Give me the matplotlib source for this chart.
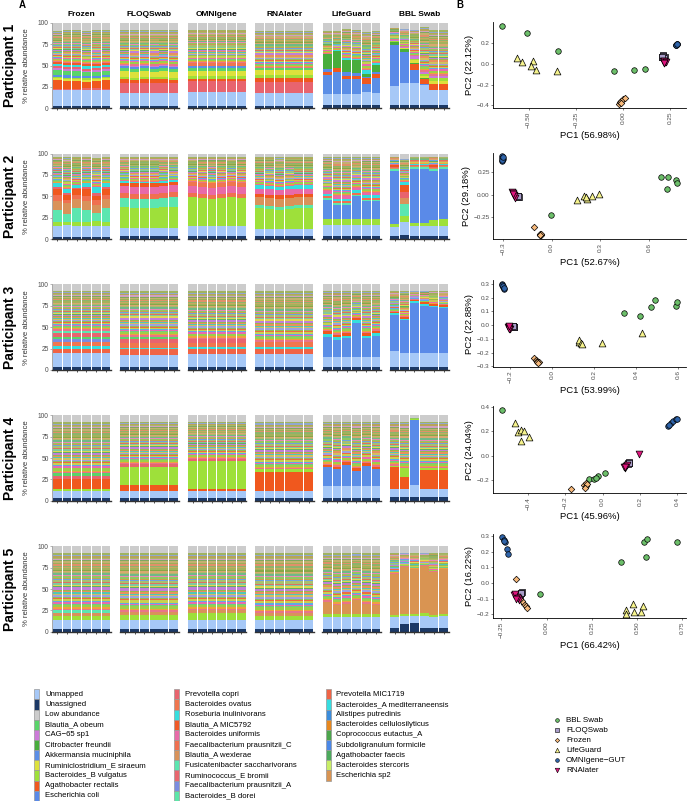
import numpy as np
import matplotlib.pyplot as plt

plt.rcParams['font.family'] = ['Liberation Sans', 'DejaVu Sans']

W, H = 687, 801

methods = ['Frozen', 'FLOQSwab', 'OMNIgene', 'RNAlater', 'LifeGuard', 'BBL Swab']
participants = ['Participant 1', 'Participant 2', 'Participant 3', 'Participant 4', 'Participant 5']

# legend taxa (column-major order) and their colours
taxa = ['Unmapped', 'Unassigned', 'Low abundance', 'Blautia_A obeum', 'CAG\u221265 sp1',
        'Citrobacter freundii', 'Akkermansia muciniphila', 'Ruminiclostridium_E siraeum',
        'Bacteroides_B vulgatus', 'Agathobacter rectalis', 'Escherichia coli',
        'Prevotella copri', 'Bacteroides ovatus', 'Roseburia inulinivorans', 'Blautia_A MIC5792',
        'Bacteroides uniformis', 'Faecalibacterium prausnitzii_C', 'Blautia_A wexlerae',
        'Fusicatenibacter saccharivorans', 'Ruminococcus_E bromii', 'Faecalibacterium prausnitzii_A',
        'Bacteroides_B dorei',
        'Prevotella MIC1719', 'Bacteroides_A mediterraneensis', 'Alistipes putredinis',
        'Bacteroides cellulosilyticus', 'Coprococcus eutactus_A', 'Subdoligranulum formicile',
        'Agathobacter faecis', 'Bacteroides stercoris', 'Escherichia sp2']
taxa_colors = ['#a6c8f7', '#1c3966', '#cccccc', '#5ad46a', '#cc7ad8',
               '#48ad3c', '#5b8ee6', '#dde13c',
               '#9ee03a', '#f0581e', '#5a8ae8',
               '#e8646e', '#f0764e', '#36dede', '#f05a28',
               '#e86aa8', '#f07050', '#d9925a',
               '#5ce6b0', '#e8666e', '#7a8ce0',
               '#5ce6a8',
               '#f06446', '#36dde0', '#3a8cdc',
               '#e8881e', '#4ca64c', '#4a88e8',
               '#4caa5c', '#c8ee66', '#d99452']
col = dict(zip(taxa, taxa_colors))

# thin "tail" stripes between the dominant taxa and the low-abundance block
tail_pct = [1.6, 1.2, 2.0, 0.8, 1.4, 1.0, 1.8, 1.1, 0.8, 1.6, 1.3, 0.9, 1.5, 1.0,
            1.9, 0.8, 1.2, 1.4, 1.0, 1.7, 1.1, 0.8, 1.4, 1.0, 1.6, 0.9, 1.3, 1.0,
            1.5, 0.8, 1.2, 1.4, 0.9, 1.6, 1.0, 1.2, 0.8, 1.3, 1.1, 1.5]
tail_colors = ['#e8748a', '#f0a040', '#9ccf4a', '#6fcf7f', '#e86ab0', '#5fa8e8', '#c8d050',
               '#f06a40', '#8fbf5a', '#a0a0e0', '#d0c060', '#4fc8b8', '#e89060', '#98b84a',
               '#c080d8', '#60b060', '#e0d850', '#80c8a0', '#e07060', '#a8c070', '#6fa0e0',
               '#c8a050', '#90c860', '#e888b8', '#70b888', '#b0b86a', '#d8a870', '#88a848',
               '#a4b25c', '#c8a860', '#8cb46c', '#e0906a', '#9cb058', '#c4b070', '#7fa860',
               '#d0a0c0', '#a8b868', '#b8a458', '#90a8d0', '#a0b460']

# stacked layers, bottom to top, 6 replicates each; 'Low abundance' sits on top
p1 = {
    'Frozen': [('Unassigned', [3, 3, 3, 3, 3, 3]), ('Unmapped', [18, 18, 18, 19, 19, 18]),
               ('Ruminococcus_E bromii', [2, 2, 2, 2, 2, 2]), ('Agathobacter rectalis', [10, 9, 9, 7, 8, 10]),
               ('Ruminiclostridium_E siraeum', [2, 2, 2, 2, 2, 2]), ('Bacteroides_B vulgatus', [2, 2, 2, 2, 2, 2]),
               ('Akkermansia muciniphila', [2, 3, 2, 3, 2, 2]), ('Blautia_A obeum', [6, 5, 6, 4, 5, 5]),
               ('CAG\u221265 sp1', [2, 2, 2, 2, 2, 2]), ('Prevotella copri', [2, 2, 2, 2, 2, 2]),
               ('Roseburia inulinivorans', [3, 3, 3, 4, 3, 3]), ('Blautia_A MIC5792', [2, 2, 2, 2, 2, 2]),
               ('Low abundance', [10, 9, 9, 10, 9, 9])],
    'FLOQSwab': [('Unassigned', [3, 3, 3, 3, 3, 3]), ('Unmapped', [15, 15, 15, 15, 15, 15]),
                 ('Prevotella copri', [12, 12, 12, 12, 12, 12]), ('Agathobacter rectalis', [4, 3, 4, 4, 4, 3]),
                 ('Bacteroides_B vulgatus', [3, 3, 3, 3, 3, 3]), ('Ruminiclostridium_E siraeum', [7, 7, 7, 6, 7, 7]),
                 ('Blautia_A obeum', [3, 3, 3, 3, 3, 3]), ('Akkermansia muciniphila', [2, 2, 2, 2, 2, 2]),
                 ('CAG\u221265 sp1', [2, 2, 2, 2, 2, 2]), ('Low abundance', [9, 9, 9, 9, 9, 9])],
    'OMNIgene': [('Unassigned', [3, 3, 3, 3, 3, 3]), ('Unmapped', [16, 16, 16, 16, 16, 16]),
                 ('Prevotella copri', [13, 13, 13, 13, 13, 13]), ('Agathobacter rectalis', [2, 2, 2, 2, 2, 2]),
                 ('Bacteroides_B vulgatus', [4, 4, 4, 4, 4, 4]), ('Ruminiclostridium_E siraeum', [6, 6, 6, 6, 6, 6]),
                 ('Blautia_A obeum', [3, 3, 3, 3, 3, 3]), ('Akkermansia muciniphila', [2, 2, 2, 2, 2, 2]),
                 ('Bacteroides ovatus', [4, 4, 4, 4, 4, 4]), ('Low abundance', [8, 8, 8, 8, 8, 8])],
    'RNAlater': [('Unassigned', [3, 3, 3, 3, 3, 3]), ('Unmapped', [15, 15, 15, 15, 15, 15]),
                 ('Prevotella copri', [13, 13, 13, 13, 13, 13]), ('Agathobacter rectalis', [5, 5, 5, 5, 5, 5]),
                 ('Bacteroides_B vulgatus', [3, 3, 3, 3, 3, 3]), ('Ruminiclostridium_E siraeum', [6, 6, 6, 6, 6, 6]),
                 ('Blautia_A obeum', [2, 2, 2, 2, 2, 2]), ('Low abundance', [10, 10, 10, 10, 10, 10])],
    'LifeGuard': [('Unassigned', [4, 4, 4, 4, 4, 4]), ('Unmapped', [13, 13, 13, 13, 15, 14]),
                  ('Akkermansia muciniphila', [22, 26, 17, 17, 10, 17]), ('Agathobacter rectalis', [3, 4, 4, 4, 7, 5]),
                  ('Escherichia coli', [4, 0, 4, 3, 1, 2]), ('Citrobacter freundii', [17, 20, 15, 16, 3, 9]),
                  ('Roseburia inulinivorans', [1, 1, 2, 1, 5, 2]), ('Low abundance', [10, 10, 7, 9, 11, 10])],
    'BBL Swab': [('Unassigned', [4, 4, 4, 4, 4, 4]), ('Unmapped', [22, 26, 26, 23, 17, 17]),
                 ('Escherichia coli', [48, 36, 15, 1, 0, 0]), ('Agathobacter rectalis', [0, 0, 7, 6, 7, 7]),
                 ('Citrobacter freundii', [3, 3, 1, 1, 1, 1]), ('Ruminiclostridium_E siraeum', [1, 1, 3, 3, 3, 3]),
                 ('Bacteroides_B vulgatus', [1, 1, 2, 2, 3, 3]), ('CAG\u221265 sp1', [1, 1, 3, 3, 3, 3]),
                 ('Low abundance', [6, 7, 8, 5, 9, 9])],
}
p2 = {
    'Frozen': [('Unassigned', [3, 3, 3, 3, 3, 3]), ('Unmapped', [12, 13, 12, 12, 12, 12]),
               ('Bacteroides_B vulgatus', [5, 4, 5, 5, 6, 5]), ('Fusicatenibacter saccharivorans', [14, 9, 16, 14, 9, 16]),
               ('Blautia_A wexlerae', [11, 13, 11, 11, 10, 11]), ('Faecalibacterium prausnitzii_C', [6, 4, 4, 5, 6, 4]),
               ('Agathobacter rectalis', [7, 5, 7, 8, 4, 7]), ('Prevotella copri', [3, 3, 2, 3, 4, 3]),
               ('Roseburia inulinivorans', [4, 5, 3, 4, 7, 4]), ('Low abundance', [4, 4, 4, 4, 5, 4])],
    'FLOQSwab': [('Unassigned', [4, 4, 4, 4, 4, 4]), ('Unmapped', [9, 9, 9, 9, 9, 9]),
                 ('Bacteroides_B vulgatus', [24, 23, 23, 23, 24, 25]), ('Fusicatenibacter saccharivorans', [11, 11, 11, 11, 11, 11]),
                 ('Faecalibacterium prausnitzii_C', [6, 6, 6, 6, 6, 6]), ('Bacteroides uniformis', [8, 8, 8, 8, 8, 8]),
                 ('Agathobacter rectalis', [4, 4, 4, 4, 4, 4]), ('Roseburia inulinivorans', [2, 2, 2, 2, 2, 2]),
                 ('Low abundance', [4, 4, 4, 4, 4, 4])],
    'OMNIgene': [('Unassigned', [4, 4, 4, 4, 4, 4]), ('Unmapped', [11, 11, 11, 11, 11, 11]),
                 ('Bacteroides_B vulgatus', [34, 33, 32, 33, 34, 33]), ('Faecalibacterium prausnitzii_C', [5, 5, 5, 5, 5, 5]),
                 ('Bacteroides uniformis', [8, 8, 8, 8, 8, 8]), ('Bacteroides ovatus', [5, 5, 5, 5, 5, 5]),
                 ('Low abundance', [4, 4, 4, 4, 4, 4])],
    'RNAlater': [('Unassigned', [4, 4, 4, 4, 4, 4]), ('Unmapped', [8, 8, 8, 8, 8, 8]),
                 ('Bacteroides_B vulgatus', [24, 23, 22, 23, 24, 24]), ('Bacteroides_B dorei', [4, 4, 4, 4, 4, 4]),
                 ('Blautia_A wexlerae', [9, 9, 9, 9, 9, 9]), ('Agathobacter rectalis', [4, 4, 4, 4, 4, 4]),
                 ('Bacteroides uniformis', [6, 6, 6, 6, 6, 6]), ('Roseburia inulinivorans', [4, 4, 4, 4, 4, 4]),
                 ('Low abundance', [4, 4, 4, 4, 4, 4])],
    'LifeGuard': [('Unassigned', [4, 4, 4, 4, 4, 4]), ('Unmapped', [12, 12, 12, 12, 12, 12]),
                  ('Bacteroides_B vulgatus', [7, 7, 7, 7, 7, 7]), ('Akkermansia muciniphila', [23, 17, 17, 27, 21, 21]),
                  ('Fusicatenibacter saccharivorans', [2, 2, 2, 2, 2, 2]), ('Faecalibacterium prausnitzii_C', [2, 2, 2, 2, 2, 2]),
                  ('Roseburia inulinivorans', [3, 3, 3, 3, 3, 3]), ('Bacteroides uniformis', [3, 3, 3, 3, 3, 3]),
                  ('Low abundance', [4, 4, 4, 4, 4, 4])],
    'BBL Swab': [('Unassigned', [4, 5, 4, 4, 4, 4]), ('Unmapped', [10, 15, 11, 11, 11, 11]),
                 ('Bacteroides_B vulgatus', [4, 7, 4, 4, 7, 8]), ('Escherichia coli', [62, 0, 63, 63, 58, 59]),
                 ('Fusicatenibacter saccharivorans', [2, 14, 2, 2, 2, 2]), ('Blautia_A wexlerae', [1, 7, 1, 1, 1, 1]),
                 ('Prevotella copri', [1, 7, 1, 1, 1, 1]), ('Agathobacter rectalis', [2, 8, 1, 1, 2, 1]),
                 ('Roseburia inulinivorans', [1, 4, 1, 1, 1, 1]), ('Low abundance', [4, 6, 4, 4, 4, 4])],
}
p3 = {
    'Frozen': [('Unassigned', [4, 4, 4, 4, 4, 4]), ('Unmapped', [16, 16, 16, 16, 16, 16]),
               ('Prevotella MIC1719', [5, 5, 5, 5, 5, 5]), ('Roseburia inulinivorans', [3, 3, 3, 3, 3, 3]),
               ('Bacteroides ovatus', [5, 5, 5, 5, 5, 5]), ('Faecalibacterium prausnitzii_A', [3, 3, 3, 3, 3, 3]),
               ('Blautia_A obeum', [3, 3, 3, 3, 3, 3]), ('Prevotella copri', [4, 4, 4, 4, 4, 4]),
               ('Fusicatenibacter saccharivorans', [3, 3, 3, 3, 3, 3]), ('Low abundance', [8, 8, 8, 8, 8, 8])],
    'FLOQSwab': [('Unassigned', [4, 4, 4, 4, 4, 4]), ('Unmapped', [14, 14, 14, 14, 14, 14]),
                 ('Prevotella MIC1719', [6, 6, 6, 6, 6, 6]), ('Roseburia inulinivorans', [2, 2, 2, 2, 2, 2]),
                 ('Bacteroides ovatus', [6, 6, 6, 6, 6, 6]), ('Prevotella copri', [4, 4, 4, 4, 4, 4]),
                 ('Blautia_A obeum', [3, 3, 3, 3, 3, 3]), ('Low abundance', [8, 8, 8, 8, 8, 8])],
    'OMNIgene': [('Unassigned', [4, 4, 4, 4, 4, 4]), ('Unmapped', [15, 15, 15, 15, 15, 15]),
                 ('Prevotella MIC1719', [6, 6, 6, 6, 6, 6]), ('Roseburia inulinivorans', [2, 2, 2, 2, 2, 2]),
                 ('Bacteroides ovatus', [5, 5, 5, 5, 5, 5]), ('Prevotella copri', [4, 4, 4, 4, 4, 4]),
                 ('Low abundance', [8, 8, 8, 8, 8, 8])],
    'RNAlater': [('Unassigned', [4, 4, 4, 4, 4, 4]), ('Unmapped', [15, 15, 15, 15, 15, 15]),
                 ('Prevotella MIC1719', [5, 5, 5, 5, 5, 5]), ('Roseburia inulinivorans', [3, 3, 3, 3, 3, 3]),
                 ('Bacteroides ovatus', [6, 6, 6, 6, 6, 6]), ('Low abundance', [8, 8, 8, 8, 8, 8])],
    'LifeGuard': [('Unassigned', [4, 4, 4, 4, 4, 4]), ('Unmapped', [11, 11, 11, 11, 11, 11]),
                  ('Akkermansia muciniphila', [24, 20, 22, 40, 22, 25]), ('Roseburia inulinivorans', [3, 3, 3, 3, 3, 3]),
                  ('Agathobacter rectalis', [3, 3, 3, 3, 3, 3]), ('Low abundance', [8, 8, 8, 8, 8, 8])],
    'BBL Swab': [('Unassigned', [4, 4, 4, 4, 4, 4]), ('Unmapped', [18, 16, 16, 16, 16, 16]),
                 ('Escherichia coli', [42, 38, 58, 55, 53, 52]), ('Roseburia inulinivorans', [2, 2, 2, 2, 2, 2]),
                 ('Agathobacter rectalis', [2, 2, 2, 2, 2, 2]), ('Low abundance', [8, 8, 8, 8, 8, 8])],
}
p4 = {
    'Frozen': [('Unassigned', [3, 3, 3, 3, 3, 3]), ('Unmapped', [8, 8, 8, 8, 8, 8]),
               ('Bacteroides_B vulgatus', [3, 3, 3, 3, 3, 3]), ('Agathobacter rectalis', [12, 12, 12, 12, 12, 12]),
               ('Prevotella copri', [3, 3, 3, 3, 3, 3]), ('Blautia_A obeum', [3, 3, 3, 3, 3, 3]),
               ('Low abundance', [8, 8, 8, 8, 8, 8])],
    'FLOQSwab': [('Unassigned', [3, 3, 3, 3, 3, 3]), ('Unmapped', [9, 9, 9, 9, 9, 9]),
                 ('Agathobacter rectalis', [6, 6, 6, 6, 6, 6]), ('Bacteroides_B vulgatus', [22, 22, 22, 22, 22, 22]),
                 ('Prevotella copri', [3, 3, 3, 3, 3, 3]), ('Low abundance', [8, 8, 8, 8, 8, 8])],
    'OMNIgene': [('Unassigned', [3, 3, 3, 3, 3, 3]), ('Unmapped', [9, 9, 9, 9, 9, 9]),
                 ('Agathobacter rectalis', [2, 2, 2, 2, 2, 2]), ('Bacteroides_B vulgatus', [32, 32, 32, 32, 32, 32]),
                 ('Prevotella copri', [3, 3, 3, 3, 3, 3]), ('Low abundance', [8, 8, 8, 8, 8, 8])],
    'RNAlater': [('Unassigned', [3, 3, 3, 3, 3, 3]), ('Unmapped', [9, 9, 9, 9, 9, 9]),
                 ('Agathobacter rectalis', [22, 22, 22, 22, 22, 22]), ('Bacteroides_B vulgatus', [3, 3, 3, 3, 3, 3]),
                 ('Low abundance', [8, 8, 8, 8, 8, 8])],
    'LifeGuard': [('Unassigned', [3, 3, 3, 3, 3, 3]), ('Unmapped', [14, 14, 14, 14, 14, 14]),
                  ('Akkermansia muciniphila', [22, 20, 25, 18, 24, 20]), ('Agathobacter rectalis', [3, 3, 3, 3, 3, 3]),
                  ('Low abundance', [8, 8, 8, 8, 8, 8])],
    'BBL Swab': [('Unassigned', [4, 4, 4, 4, 4, 4]), ('Unmapped', [10, 10, 14, 10, 10, 10]),
                 ('Agathobacter rectalis', [25, 14, 1, 22, 22, 22]), ('Escherichia coli', [0, 0, 75, 0, 0, 0]),
                 ('Bacteroides_B vulgatus', [2, 10, 1, 2, 2, 2]), ('Low abundance', [8, 8, 3, 8, 8, 8])],
}
p5 = {
    'Frozen': [('Unassigned', [3, 3, 3, 3, 3, 3]), ('Unmapped', [11, 11, 11, 11, 11, 11]),
               ('Bacteroides_B vulgatus', [5, 5, 5, 5, 5, 5]), ('Blautia_A wexlerae', [3, 3, 3, 3, 3, 3]),
               ('Fusicatenibacter saccharivorans', [3, 3, 3, 3, 3, 3]), ('Low abundance', [8, 8, 8, 8, 8, 8])],
    'FLOQSwab': [('Unassigned', [3, 3, 3, 3, 3, 3]), ('Unmapped', [11, 11, 11, 11, 11, 11]),
                 ('Bacteroides_B vulgatus', [6, 6, 6, 6, 6, 6]), ('Blautia_A wexlerae', [3, 3, 3, 3, 3, 3]),
                 ('Low abundance', [8, 8, 8, 8, 8, 8])],
    'OMNIgene': [('Unassigned', [3, 3, 3, 3, 3, 3]), ('Unmapped', [11, 11, 11, 11, 11, 11]),
                 ('Bacteroides_B vulgatus', [8, 8, 8, 8, 8, 8]), ('Blautia_A wexlerae', [3, 3, 3, 3, 3, 3]),
                 ('Low abundance', [8, 8, 8, 8, 8, 8])],
    'RNAlater': [('Unassigned', [3, 3, 3, 3, 3, 3]), ('Unmapped', [11, 11, 11, 11, 11, 11]),
                 ('Bacteroides_B vulgatus', [5, 5, 5, 5, 5, 5]), ('Blautia_A wexlerae', [3, 3, 3, 3, 3, 3]),
                 ('Low abundance', [8, 8, 8, 8, 8, 8])],
    'LifeGuard': [('Unassigned', [3, 3, 3, 3, 3, 3]), ('Unmapped', [14, 14, 14, 14, 14, 14]),
                  ('Bacteroides_B vulgatus', [4, 4, 4, 4, 4, 4]), ('Escherichia sp2', [14, 10, 12, 16, 12, 10]),
                  ('Low abundance', [8, 8, 8, 8, 8, 8])],
    'BBL Swab': [('Unassigned', [4, 9, 10, 5, 4, 4]), ('Unmapped', [13, 10, 9, 14, 13, 14]),
                 ('Bacteroides_B vulgatus', [3, 2, 2, 3, 3, 3]), ('Escherichia sp2', [48, 55, 52, 55, 50, 52]),
                 ('Low abundance', [8, 8, 8, 8, 8, 8])],
}
bar_data = [p1, p2, p3, p4, p5]

# PCA coordinates per participant: method -> (PC1, PC2)
pc_p1 = {
    'BBL Swab': ([-0.641, -0.509, -0.345, -0.047, 0.059, 0.115], [0.362, 0.294, 0.122, -0.066, -0.062, -0.050]),
    'LifeGuard': ([-0.561, -0.535, -0.479, -0.486, -0.463, -0.349], [0.059, 0.019, 0.028, -0.019, -0.056, -0.066]),
    'Frozen': ([-0.020, -0.015, -0.009, 0.000, 0.009, -0.013], [-0.387, -0.369, -0.353, -0.341, -0.331, -0.375]),
    'FLOQSwab': ([0.203, 0.212, 0.220, 0.208, 0.215, 0.206], [0.060, 0.080, 0.068, 0.072, 0.055, 0.065]),
    'RNAlater': ([0.212, 0.220, 0.216, 0.224, 0.214, 0.218], [0.025, 0.015, 0.030, 0.020, 0.010, 0.005]),
    'OMNIgene\u2212GUT': ([0.278, 0.285, 0.281, 0.283, 0.280, 0.286], [0.178, 0.190, 0.183, 0.186, 0.180, 0.192]),
}
pc_p2 = {
    'BBL Swab': ([-0.005, 0.674, 0.715, 0.709, 0.764, 0.774], [-0.228, 0.198, 0.198, 0.063, 0.168, 0.131]),
    'LifeGuard': ([0.155, 0.200, 0.217, 0.247, 0.290, 0.210], [-0.056, -0.019, -0.045, -0.019, 0.007, -0.030]),
    'Frozen': ([-0.107, -0.074, -0.064, -0.070, -0.068, -0.072], [-0.370, -0.450, -0.460, -0.455, -0.448, -0.458]),
    'FLOQSwab': ([-0.204, -0.210, -0.206, -0.208, -0.202, -0.205], [-0.020, -0.015, -0.025, -0.018, -0.022, -0.020]),
    'RNAlater': ([-0.245, -0.234, -0.224, -0.240, -0.230, -0.238], [0.026, 0.000, -0.037, 0.015, -0.015, 0.010]),
    'OMNIgene\u2212GUT': ([-0.304, -0.302, -0.304, -0.303, -0.305, -0.302], [0.430, 0.400, 0.380, 0.415, 0.390, 0.420]),
}
pc_p3 = {
    'BBL Swab': ([0.342, 0.418, 0.473, 0.493, 0.589, 0.597], [0.089, 0.067, 0.133, 0.182, 0.138, 0.170]),
    'LifeGuard': ([0.127, 0.131, 0.138, 0.143, 0.238, 0.429], [-0.120, -0.110, -0.126, -0.136, -0.131, -0.053]),
    'Frozen': ([-0.085, -0.075, -0.069, -0.063, -0.072, -0.066], [-0.240, -0.255, -0.260, -0.270, -0.265, -0.275]),
    'FLOQSwab': ([-0.181, -0.184, -0.180, -0.183, -0.182, -0.185], [-0.010, -0.005, -0.015, -0.008, -0.012, -0.006]),
    'RNAlater': ([-0.208, -0.200, -0.204, -0.206, -0.202, -0.205], [-0.010, -0.030, -0.020, -0.015, -0.025, -0.005]),
    'OMNIgene\u2212GUT': ([-0.237, -0.232, -0.229, -0.235, -0.233, -0.230], [0.300, 0.280, 0.260, 0.292, 0.285, 0.270]),
}
pc_p4 = {
    'BBL Swab': ([-0.540, -0.076, -0.044, -0.023, 0.012, -0.035], [0.372, -0.192, -0.186, -0.167, -0.145, -0.180]),
    'LifeGuard': ([-0.468, -0.453, -0.436, -0.421, -0.441, -0.393], [0.268, 0.194, 0.205, 0.202, 0.117, 0.152]),
    'Frozen': ([-0.169, -0.101, -0.092, -0.089, -0.084, -0.096], [-0.274, -0.241, -0.222, -0.250, -0.233, -0.260]),
    'FLOQSwab': ([0.139, 0.143, 0.136, 0.141, 0.138, 0.140], [-0.057, -0.062, -0.060, -0.055, -0.065, -0.058]),
    'RNAlater': ([0.196, 0.119, 0.124, 0.128, 0.115, 0.122], [0.015, -0.104, -0.084, -0.076, -0.095, -0.090]),
    'OMNIgene\u2212GUT': ([0.352, 0.364, 0.377, 0.391, 0.400, 0.358], [0.240, 0.262, 0.279, 0.295, 0.300, 0.250]),
}
pc_p5 = {
    'BBL Swab': ([-0.035, 0.411, 0.537, 0.555, 0.546, 0.721], [-0.070, 0.133, 0.260, 0.277, 0.164, 0.260]),
    'LifeGuard': ([0.436, 0.438, 0.478, 0.482, 0.519, 0.532], [-0.171, -0.200, -0.135, -0.183, -0.183, -0.146]),
    'Frozen': ([-0.167, -0.127, -0.114, -0.109, -0.136, -0.145], [0.028, -0.131, -0.146, -0.156, -0.114, -0.100]),
    'FLOQSwab': ([-0.151, -0.136, -0.145, -0.140, -0.148, -0.142], [-0.079, -0.058, -0.070, -0.065, -0.075, -0.062]),
    'RNAlater': ([-0.182, -0.164, -0.151, -0.172, -0.160, -0.168], [-0.079, -0.089, -0.108, -0.072, -0.095, -0.100]),
    'OMNIgene\u2212GUT': ([-0.246, -0.237, -0.232, -0.219, -0.213, -0.235], [0.290, 0.273, 0.258, 0.214, 0.183, 0.265]),
}
pca_data = [pc_p1, pc_p2, pc_p3, pc_p4, pc_p5]
pc1_var = ['56.98%', '52.67%', '53.99%', '45.96%', '66.42%']
pc2_var = ['22.12%', '29.18%', '22.88%', '24.04%', '16.22%']
pc_xticks = [[-0.50, -0.25, 0.00, 0.25], [-0.3, 0.0, 0.3, 0.6], [-0.2, 0.0, 0.2, 0.4, 0.6],
             [-0.4, -0.2, 0.0, 0.2, 0.4], [-0.25, 0.00, 0.25, 0.50, 0.75]]
pc_yticks = [[-0.4, -0.2, 0.0, 0.2], [-0.25, 0.00, 0.25], [-0.3, -0.2, -0.1, 0.0, 0.1, 0.2, 0.3],
             [-0.2, 0.0, 0.2, 0.4], [-0.2, -0.1, 0.0, 0.1, 0.2, 0.3]]
pc_xdec = [2, 1, 1, 1, 2]
pc_ydec = [1, 2, 1, 1, 1]

pca_methods = ['BBL Swab', 'FLOQSwab', 'Frozen', 'LifeGuard', 'OMNIgene\u2212GUT', 'RNAlater']
pca_style = {'BBL Swab': ('o', '#6cbf6a', 16), 'FLOQSwab': ('s', '#a99dc9', 13),
             'Frozen': ('D', '#f7b97b', 11), 'LifeGuard': ('^', '#f6f38c', 24),
             'OMNIgene\u2212GUT': ('o', '#2f64aa', 16), 'RNAlater': ('v', '#e0147e', 24)}
draw_order = ['BBL Swab', 'LifeGuard', 'Frozen', 'FLOQSwab', 'RNAlater', 'OMNIgene\u2212GUT']


def px_rect(x0, y0, x1, y1):
    return [x0 / W, 1 - y1 / H, (x1 - x0) / W, (y1 - y0) / H]


def fmt(v, d):
    return f'{v:.{d}f}'.replace('-', '\u2212')


fig = plt.figure(figsize=(W / 100, H / 100), dpi=100)

facet_left = [52.3, 120.0, 187.7, 255.0, 322.3, 390.0]
facet_w = 58.5
row_top = [22.7, 153.5, 284.3, 415.2, 546.2]
row_h = 85.7
pca_top = [22, 152.5, 280, 406, 533.5]
pca_bot = [108, 239.3, 367, 493.3, 618.3]

reps = np.arange(1, 7)
for r in range(5):
    for m, meth in enumerate(methods):
        ax = fig.add_axes(px_rect(facet_left[m], row_top[r], facet_left[m] + facet_w, row_top[r] + row_h))
        layers = bar_data[r][meth]
        bottom = np.zeros(6)
        for name, vals in layers[:-1]:
            vals = np.array(vals, float)
            ax.bar(reps, vals, bottom=bottom, width=0.9, color=col[name], linewidth=0)
            bottom += vals
        low = np.array(layers[-1][1], float)
        space = (100 - low) - bottom
        tp = np.array(tail_pct)
        for k in range(len(tp)):
            h = space * tp[k] / tp.sum()
            ax.bar(reps, h, bottom=bottom, width=0.9, color=tail_colors[k], linewidth=0)
            bottom += h
        ax.bar(reps, low, bottom=bottom, width=0.9, color=col['Low abundance'], linewidth=0)
        ax.set_xlim(0.5, 6.5)
        ax.set_ylim(0, 100)
        for s in ['top', 'right']:
            ax.spines[s].set_visible(False)
        ax.spines['bottom'].set_color('#333333')
        ax.spines['bottom'].set_linewidth(1.0)
        ax.set_xticks(reps)
        ax.set_xticklabels([])
        ax.tick_params(axis='x', length=1.5, color='#333333', width=0.6)
        if m == 0:
            ax.spines['left'].set_color('#999999')
            ax.spines['left'].set_linewidth(0.6)
            ax.set_yticks([0, 25, 50, 75, 100])
            ax.set_yticklabels(['0', '25', '50', '75', '100'], fontsize=4.8, color='#4d4d4d')
            ax.tick_params(axis='y', length=1.5, width=0.5, color='#999999', pad=1)
        else:
            ax.spines['left'].set_visible(False)
            ax.set_yticks([])
        if r == 0:
            fig.text((facet_left[m] + facet_w / 2) / W, 1 - 15 / H, meth, ha='center', va='center',
                     fontsize=6, fontweight='bold')
    yc = 1 - (row_top[r] + row_h / 2) / H
    fig.text(10 / W, yc, participants[r], rotation=90, ha='center', va='center', fontsize=10, fontweight='bold')
    fig.text(27 / W, yc, '% relative abundance', rotation=90, ha='center', va='center', fontsize=5.6, color='#333333')

    # PCA panel
    ax = fig.add_axes(px_rect(493.3, pca_top[r], 686, pca_bot[r]))
    for meth in draw_order:
        xs, ys = pca_data[r][meth]
        mk, c, s = pca_style[meth]
        ax.scatter(xs, ys, marker=mk, s=s, c=c, edgecolors='black', linewidths=0.5, zorder=3)
    ax.margins(0.05)
    for s in ['top', 'right']:
        ax.spines[s].set_visible(False)
    for s in ['left', 'bottom']:
        ax.spines[s].set_linewidth(0.6)
    ax.set_xticks(pc_xticks[r])
    ax.set_xticklabels([fmt(v, pc_xdec[r]) for v in pc_xticks[r]], rotation=90, fontsize=4.6, color='#4d4d4d')
    ax.set_yticks(pc_yticks[r])
    ax.set_yticklabels([fmt(v, pc_ydec[r]) for v in pc_yticks[r]], fontsize=4.6, color='#4d4d4d')
    ax.tick_params(length=1.5, width=0.5, color='#4d4d4d', pad=1)
    ax.set_xlabel(f'PC1 ({pc1_var[r]})', fontsize=6.8, labelpad=2)
    ax.set_ylabel(f'PC2 ({pc2_var[r]})', fontsize=6.8, labelpad=2)

fig.text(22 / W, 1 - 5 / H, 'A', fontsize=7, fontweight='bold', ha='center', va='center')
fig.text(460 / W, 1 - 5 / H, 'B', fontsize=7, fontweight='bold', ha='center', va='center')

# legends drawn in pixel coordinates
lax = fig.add_axes([0, 0, 1, 1], zorder=-1)
lax.set_xlim(0, W)
lax.set_ylim(H, 0)
lax.axis('off')
key_x = [34, 174, 325.5]
txt_x = [45, 185, 336]
for i, name in enumerate(taxa):
    c, row = divmod(i, 11)
    y = 694.3 + row * 10.15
    lax.add_patch(plt.Rectangle((key_x[c], y - 5.07), 5, 10.15, facecolor=col[name],
                                edgecolor='#999999', linewidth=0.5))
    lax.text(txt_x[c], y, name, fontsize=5.6, va='center', ha='left')
for i, meth in enumerate(pca_methods):
    y = 720 + i * 10
    mk, c, s = pca_style[meth]
    lax.scatter([557], [y], marker=mk, s=s * 0.45, c=c, edgecolors='black', linewidths=0.4)
    lax.text(566, y, meth, fontsize=5.8, va='center', ha='left')

fig.savefig('out.png', dpi=100)
